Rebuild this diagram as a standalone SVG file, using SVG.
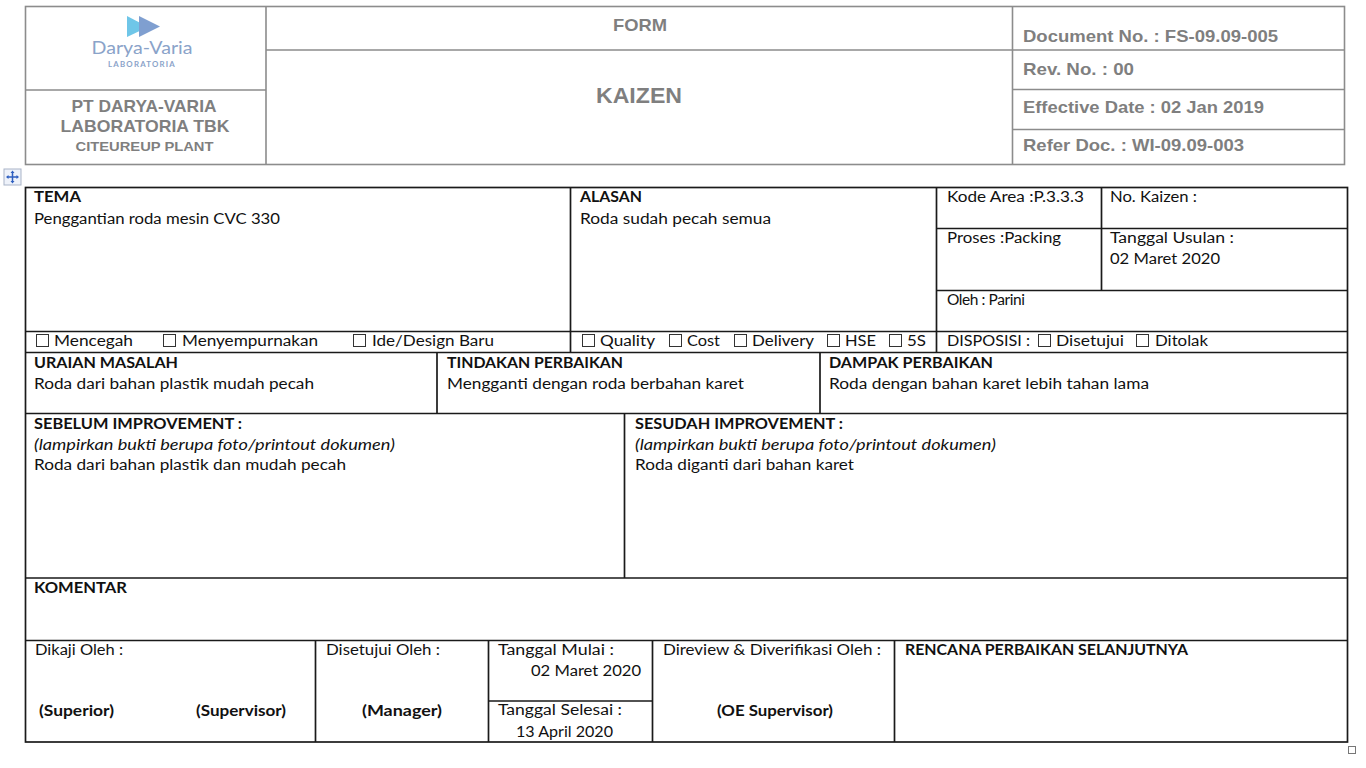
<svg xmlns="http://www.w3.org/2000/svg" width="1366" height="768" viewBox="0 0 1366 768">
<style>
text{font-family:Lato,"Open Sans",sans-serif;font-size:15.5px;fill:#111;}
.b{font-weight:700;}
.i{font-style:italic;}
.h{font-family:"Liberation Sans",Arial,sans-serif;font-weight:700;fill:#7f7f7f;font-size:17px;}
.g{stroke:#8c8c8c;stroke-width:1.6;fill:none;}
.k{stroke:#1a1a1a;stroke-width:1.7;fill:none;}
.c{stroke:#333;stroke-width:1;fill:#fff;}
</style>
<rect width="1366" height="768" fill="#fff"/>
<g id="header-lines">
<rect class="g" x="25.500" y="6.500" width="1319" height="158"/>
<path class="g" d="M266 6.500V164.500M1012.500 6.500V164.500M25.500 90H266M266 50H1344.500M1012.500 89.500H1344.500M1012.500 129.500H1344.500"/>
</g>
<g id="logo">
<polygon points="127,16 148,27 127,37" fill="#6fc6e8"/>
<polygon points="139,16 160,26.500 139,37" fill="#7f9fd0"/>
<text x="142" y="54" text-anchor="middle" textLength="101" lengthAdjust="spacingAndGlyphs" style="font-size:17px;fill:#8aa3c9">Darya-Varia</text>
<text x="142" y="67" text-anchor="middle" textLength="68" lengthAdjust="spacingAndGlyphs" style="font-size:6.500px;font-weight:700;fill:#8aa3c9;letter-spacing:1px">LABORATORIA</text>
</g>
<g id="company">
<text class="h" x="144" y="112" text-anchor="middle" textLength="145" lengthAdjust="spacingAndGlyphs">PT DARYA-VARIA</text>
<text class="h" x="145" y="132" text-anchor="middle" textLength="169" lengthAdjust="spacingAndGlyphs">LABORATORIA TBK</text>
<text class="h" x="144.500" y="151" text-anchor="middle" textLength="138" lengthAdjust="spacingAndGlyphs" style="font-size:13px">CITEUREUP PLANT</text>
</g>
<g id="title">
<text class="h" x="640" y="31" text-anchor="middle" textLength="54" lengthAdjust="spacingAndGlyphs">FORM</text>
<text class="h" x="639" y="103" text-anchor="middle" textLength="86" lengthAdjust="spacingAndGlyphs" style="font-size:22px">KAIZEN</text>
</g>
<g id="doc-info">
<text class="h" x="1023" y="42" textLength="255" lengthAdjust="spacingAndGlyphs">Document No. : FS-09.09-005</text>
<text class="h" x="1023" y="75" textLength="111" lengthAdjust="spacingAndGlyphs">Rev. No. : 00</text>
<text class="h" x="1023" y="113" textLength="241" lengthAdjust="spacingAndGlyphs">Effective Date : 02 Jan 2019</text>
<text class="h" x="1023" y="151" textLength="221" lengthAdjust="spacingAndGlyphs">Refer Doc. : WI-09.09-003</text>
</g>
<g id="move-handle">
<rect x="4" y="169" width="17" height="16" fill="#eef2fa" stroke="#a9b4c8"/>
<path d="M12.500 172V182M7.500 177H17.500" stroke="#2f5fc0" stroke-width="1.500"/>
<path d="M12.500 170.500L10.500 173H14.500ZM12.500 183.500L10.500 181H14.500ZM6 177L8.500 175V179ZM19 177L16.500 175V179Z" fill="#2f5fc0"/>
</g>
<g id="table-lines">
<rect class="k" x="25.500" y="187.500" width="1322" height="554.500"/>
<path class="k" d="M25.500 331.500H1347.500M25.500 352.500H1347.500M25.500 413.500H1347.500M25.500 578H1347.500M25.500 640.500H1347.500"/>
<path class="k" d="M570.500 187.500V352.500M936.500 187.500V352.500M1101.500 187.500V290.500M936.500 228.500H1347.500M936.500 290.500H1347.500"/>
<path class="k" d="M437 352.500V413.500M820 352.500V413.500M624.500 413.500V578"/>
<path class="k" d="M315.500 640.500V742M488.500 640.500V742M652.500 640.500V742M894.500 640.500V742M488.500 701H652.500"/>
</g>
<g id="checkboxes">
<rect class="c" x="36.500" y="334.500" width="12" height="12"/>
<rect class="c" x="163.500" y="334.500" width="12" height="12"/>
<rect class="c" x="353.500" y="334.500" width="12" height="12"/>
<rect class="c" x="582.500" y="334.500" width="12" height="12"/>
<rect class="c" x="669.500" y="334.500" width="12" height="12"/>
<rect class="c" x="734.500" y="334.500" width="12" height="12"/>
<rect class="c" x="827.500" y="334.500" width="12" height="12"/>
<rect class="c" x="889.500" y="334.500" width="12" height="12"/>
<rect class="c" x="1038.500" y="334.500" width="12" height="12"/>
<rect class="c" x="1136.500" y="334.500" width="12" height="12"/>
</g>
<g id="tema">
<text class="b" x="34" y="202" textLength="47" lengthAdjust="spacingAndGlyphs">TEMA</text>
<text x="34" y="224" textLength="246" lengthAdjust="spacingAndGlyphs">Penggantian roda mesin CVC 330</text>
<text x="54" y="346" textLength="79" lengthAdjust="spacingAndGlyphs">Mencegah</text>
<text x="182" y="346" textLength="136" lengthAdjust="spacingAndGlyphs">Menyempurnakan</text>
<text x="372" y="346" textLength="122" lengthAdjust="spacingAndGlyphs">Ide/Design Baru</text>
</g>
<g id="alasan">
<text class="b" x="580" y="202" textLength="62" lengthAdjust="spacingAndGlyphs">ALASAN</text>
<text x="580" y="224" textLength="191" lengthAdjust="spacingAndGlyphs">Roda sudah pecah semua</text>
<text x="600" y="346" textLength="55" lengthAdjust="spacingAndGlyphs">Quality</text>
<text x="687" y="346" textLength="33" lengthAdjust="spacingAndGlyphs">Cost</text>
<text x="752" y="346" textLength="62" lengthAdjust="spacingAndGlyphs">Delivery</text>
<text x="845" y="346" textLength="31" lengthAdjust="spacingAndGlyphs">HSE</text>
<text x="907" y="346" textLength="19" lengthAdjust="spacingAndGlyphs">5S</text>
</g>
<g id="info">
<text x="947" y="202" textLength="137" lengthAdjust="spacingAndGlyphs">Kode Area :P.3.3.3</text>
<text x="1110" y="202" textLength="87" lengthAdjust="spacingAndGlyphs">No. Kaizen :</text>
<text x="947" y="243" textLength="114" lengthAdjust="spacingAndGlyphs">Proses :Packing</text>
<text x="1110" y="243" textLength="124" lengthAdjust="spacingAndGlyphs">Tanggal Usulan :</text>
<text x="1110" y="264" textLength="110" lengthAdjust="spacingAndGlyphs">02 Maret 2020</text>
<text x="947" y="305" textLength="78" lengthAdjust="spacing">Oleh : Parini</text>
<text x="947" y="346" textLength="83" lengthAdjust="spacingAndGlyphs">DISPOSISI :</text>
<text x="1056" y="346" textLength="68" lengthAdjust="spacingAndGlyphs">Disetujui</text>
<text x="1155" y="346" textLength="53" lengthAdjust="spacingAndGlyphs">Ditolak</text>
</g>
<g id="uraian">
<text class="b" x="34" y="368" textLength="144" lengthAdjust="spacingAndGlyphs">URAIAN MASALAH</text>
<text x="34" y="389" textLength="280" lengthAdjust="spacingAndGlyphs">Roda dari bahan plastik mudah pecah</text>
</g>
<g id="tindakan">
<text class="b" x="447" y="368" textLength="176" lengthAdjust="spacingAndGlyphs">TINDAKAN PERBAIKAN</text>
<text x="447" y="389" textLength="297" lengthAdjust="spacingAndGlyphs">Mengganti dengan roda berbahan karet</text>
</g>
<g id="dampak">
<text class="b" x="829" y="368" textLength="164" lengthAdjust="spacingAndGlyphs">DAMPAK PERBAIKAN</text>
<text x="829" y="389" textLength="320" lengthAdjust="spacingAndGlyphs">Roda dengan bahan karet lebih tahan lama</text>
</g>
<g id="sebelum">
<text class="b" x="34" y="429" textLength="208" lengthAdjust="spacingAndGlyphs">SEBELUM IMPROVEMENT :</text>
<text class="i" x="34" y="450" textLength="361" lengthAdjust="spacingAndGlyphs">(lampirkan bukti berupa foto/printout dokumen)</text>
<text x="34" y="470" textLength="312" lengthAdjust="spacingAndGlyphs">Roda dari bahan plastik dan mudah pecah</text>
</g>
<g id="sesudah">
<text class="b" x="635" y="429" textLength="208" lengthAdjust="spacingAndGlyphs">SESUDAH IMPROVEMENT :</text>
<text class="i" x="635" y="450" textLength="361" lengthAdjust="spacingAndGlyphs">(lampirkan bukti berupa foto/printout dokumen)</text>
<text x="635" y="470" textLength="219" lengthAdjust="spacingAndGlyphs">Roda diganti dari bahan karet</text>
</g>
<g id="komentar">
<text class="b" x="34" y="593" textLength="93" lengthAdjust="spacingAndGlyphs">KOMENTAR</text>
</g>
<g id="dikaji">
<text x="35" y="655" textLength="88" lengthAdjust="spacingAndGlyphs">Dikaji Oleh :</text>
<text class="b" x="39" y="716" textLength="75" lengthAdjust="spacingAndGlyphs">(Superior)</text>
<text class="b" x="196" y="716" textLength="90" lengthAdjust="spacingAndGlyphs">(Supervisor)</text>
</g>
<g id="disetujui">
<text x="326" y="655" textLength="114" lengthAdjust="spacingAndGlyphs">Disetujui Oleh :</text>
<text class="b" x="362" y="716" textLength="80" lengthAdjust="spacingAndGlyphs">(Manager)</text>
</g>
<g id="tanggal">
<text x="498" y="655" textLength="116" lengthAdjust="spacingAndGlyphs">Tanggal Mulai :</text>
<text x="531" y="676" textLength="110" lengthAdjust="spacingAndGlyphs">02 Maret 2020</text>
<text x="498" y="715" textLength="124" lengthAdjust="spacingAndGlyphs">Tanggal Selesai :</text>
<text x="516" y="737" textLength="97" lengthAdjust="spacingAndGlyphs">13 April 2020</text>
</g>
<g id="direview">
<text x="663" y="655" textLength="218" lengthAdjust="spacingAndGlyphs">Direview &amp; Diverifikasi Oleh :</text>
<text class="b" x="717" y="716" textLength="116" lengthAdjust="spacingAndGlyphs">(OE Supervisor)</text>
</g>
<g id="rencana">
<text class="b" x="905" y="655" textLength="283" lengthAdjust="spacingAndGlyphs">RENCANA PERBAIKAN SELANJUTNYA</text>
</g>
<g id="resize-handle">
<rect x="1348.500" y="746.500" width="7" height="7" fill="#fff" stroke="#777"/>
</g>
</svg>
